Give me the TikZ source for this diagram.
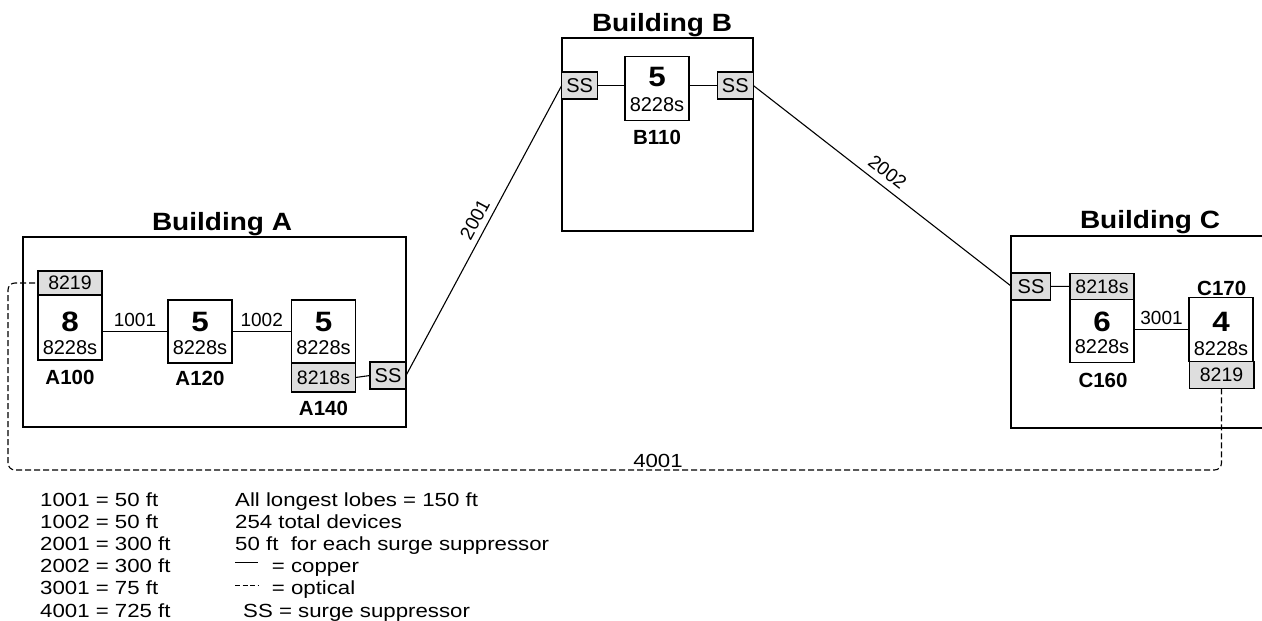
\documentclass[tikz,border=0pt]{standalone}
\usepackage{fontspec}
\setmainfont{Liberation Sans}
\newfontfamily\titlefont[FakeStretch=1.12]{Liberation Sans}
\newfontfamily\legfont[FakeStretch=1.17]{Liberation Sans}
\definecolor{boxgray}{gray}{0.87}
\tikzset{
 unit/.style={draw, line width=1.3pt, minimum width=64pt, inner sep=0pt, outer sep=0pt},
 gunit/.style={unit, fill=boxgray, font=\fontsize{19.5}{22}\selectfont},
 ssbox/.style={draw, line width=1.3pt, fill=boxgray, minimum width=36pt, minimum height=27pt, inner sep=0pt, outer sep=0pt, font=\fontsize{20}{24}\selectfont},
 bld/.style={draw, line width=1.9pt, inner sep=0pt, outer sep=0pt},
 bigno/.style={font=\titlefont\bfseries\fontsize{28}{30}\selectfont, inner sep=0pt},
 model/.style={font=\fontsize{20}{24}\selectfont, inner sep=0pt},
 tag/.style={font=\bfseries\fontsize{20.5}{24}\selectfont, inner sep=0pt},
 title/.style={font=\titlefont\bfseries\fontsize{25}{30}\selectfont, anchor=base, inner sep=0pt},
 cable/.style={line width=1.1pt},
 optical/.style={line width=1.1pt, dash pattern=on 6pt off 3pt, rounded corners=7pt},
 lbl/.style={font=\fontsize{19}{22}\selectfont, inner sep=0pt},
 leg/.style={font=\legfont\fontsize{19}{22}\selectfont, anchor=base west, inner sep=0pt},
}
\begin{document}
\begin{tikzpicture}[x=1pt,y=-1pt]
\useasboundingbox (0,0) rectangle (1262,621);
% ---------- Building A
\node[bld, minimum width=383.3pt, minimum height=190pt] (bA) at (214.3,332) {};
\node[title] (tA) at (222,230) {Building A};
\node[gunit, minimum height=24pt] (a8219) at (70,283) {8219};
\node[unit, minimum height=65pt] (a100) at (70,327.5) {};
\node[bigno] (a100n) at (70,321.7) {8};
\node[model] (a100m) at (70,348) {8228s};
\node[tag] (a100t) at (70,377.5) {A100};
\node[unit, minimum height=63pt] (a120) at (200,331.5) {};
\node[bigno] (a120n) at (200,321.7) {5};
\node[model] (a120m) at (200,348) {8228s};
\node[tag] (a120t) at (200,378.3) {A120};
\node[unit, minimum height=63pt] (a140) at (323.5,331.5) {};
\node[bigno] (a140n) at (323.5,321.7) {5};
\node[model] (a140m) at (323.5,348) {8228s};
\node[gunit, minimum height=29pt] (a8218) at (323.5,377.5) {8218s};
\node[tag] (a140t) at (323.5,408) {A140};
\node[ssbox] (ssA) at (388,375.5) {SS};
\draw[cable] (a100.east |- a120.west) -- node[lbl, above=4pt] (l1001) {1001} (a120.west);
\draw[cable] (a120.east) -- node[lbl, above=4pt] (l1002) {1002} (a140.west);
\draw[cable] (a8218.east) -- (ssA.west);
% ---------- Building B
\node[bld, minimum width=191.6pt, minimum height=192.7pt] (bB) at (657.5,134.7) {};
\node[title] (tB) at (662,31.5) {Building B};
\node[ssbox] (ssB1) at (579.7,85.5) {SS};
\node[unit, minimum height=64pt] (b110) at (657,88.7) {};
\node[bigno] (b110n) at (657,76.7) {5};
\node[model] (b110m) at (657,105) {8228s};
\node[tag] (b110t) at (657,137.3) {B110};
\node[ssbox] (ssB2) at (735.3,85.5) {SS};
\draw[cable] (ssB1.east) -- (ssB1.east -| b110.west);
\draw[cable] (b110.east |- ssB2.west) -- (ssB2.west);
% ---------- Building C
\node[bld, minimum width=269pt, minimum height=191.7pt] (bC) at (1145.5,331.9) {};
\node[title] (tC) at (1150,228) {Building C};
\node[ssbox, minimum width=39pt] (ssC) at (1031,286.4) {SS};
\node[gunit, minimum height=26pt] (c8218) at (1102,286.3) {8218s};
\node[unit, minimum height=63.4pt] (c160) at (1102,331) {};
\node[bigno] (c160n) at (1102,321.7) {6};
\node[model] (c160m) at (1102,346.7) {8228s};
\node[tag] (c160t) at (1103,380) {C160};
\node[tag] (c170t) at (1221.7,288.3) {C170};
\node[unit, minimum height=64.4pt] (c170) at (1221,329.5) {};
\node[bigno] (c170n) at (1221,321.7) {4};
\node[model] (c170m) at (1221,348.3) {8228s};
\node[gunit, minimum height=26.6pt, minimum width=64.7pt] (c8219) at (1221.5,375) {8219};
\draw[cable] (ssC.east) -- (c8218.west);
\draw[cable] (c160.east |- c170.west) -- node[lbl, above=4pt] (l3001) {3001} (c170.west);
% ---------- inter-building links
\draw[cable] (ssA.east) -- node[lbl, sloped, above=6pt, pos=0.517] (l2001) {2001} (ssB1.west);
\draw[cable] (ssB2.east) -- node[lbl, sloped, above=7pt, pos=0.486] (l2002) {2002} (ssC.west);
% ---------- optical link
\coordinate (ocorner) at (8,470);
\draw[optical] (c8219.south) |- (ocorner) |- (a8219.west);
\node[leg, anchor=center] (l4001) at (658,461) {4001};
% ---------- legend
\node[leg] (g1) at (40,506) {1001 = 50 ft};
\node[leg] (g2) at (40,528.2) {1002 = 50 ft};
\node[leg] (g3) at (40,550.4) {2001 = 300 ft};
\node[leg] (g4) at (40,572.6) {2002 = 300 ft};
\node[leg] (g5) at (40,594.8) {3001 = 75 ft};
\node[leg] (g6) at (40,617) {4001 = 725 ft};
\node[leg] (h1) at (235,506) {All longest lobes = 150 ft};
\node[leg] (h2) at (235,528.2) {254 total devices};
\node[leg] (h3) at (235,550.4) {50 ft~ for each surge suppressor};
\coordinate (cu1) at (235,562.7);
\coordinate (cu2) at (258,562.7);
\draw[line width=0.8pt] (cu1) -- (cu2);
\node[leg] (h4) at (271.7,572.6) {= copper};
\coordinate (op1) at (235,585);
\coordinate (op2) at (258,585);
\draw[line width=0.8pt, dash pattern=on 5pt off 2.5pt] (op1) -- (op2);
\node[leg] (h5) at (271.7,594.8) {= optical};
\node[leg] (h6) at (243,617) {SS = surge suppressor};
\end{tikzpicture}
\end{document}
